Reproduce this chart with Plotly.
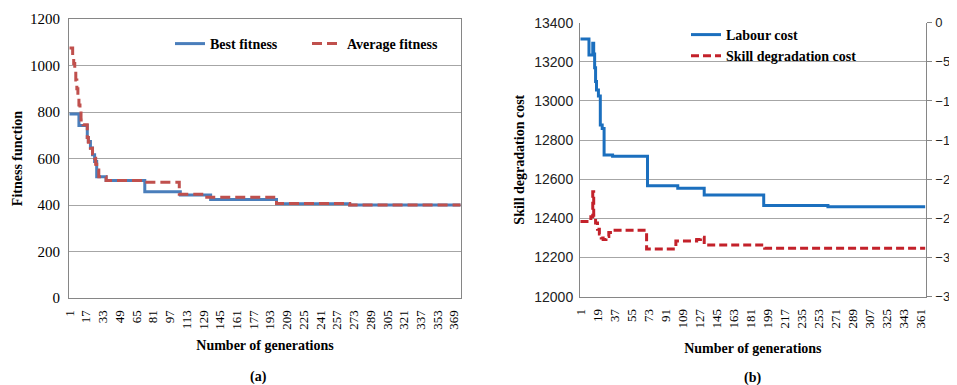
import plotly.graph_objects as go

# ---------------- data: chart (a) ----------------
n_gen_a = 375
best_gen = [1, 10, 18, 19, 21, 23, 25, 27, 36, 73, 107, 136, 199, 269, 375]
best_fit = [791, 742, 690, 673, 645, 616, 587, 522, 505, 457, 443, 424, 405, 400, 400]
avg_gen = [1, 4, 5, 6, 7, 8, 9, 10, 11, 12, 14, 18, 19, 21, 23, 25, 26, 27, 29, 36, 73, 106, 129, 199, 269, 375]
avg_fit = [1075, 1040, 1009, 975, 938, 900, 867, 830, 802, 766, 745, 690, 670, 644, 620, 601, 575, 551, 522, 505, 498, 446, 433, 406, 400, 400]
ticks_a = [1, 17, 33, 49, 65, 81, 97, 113, 129, 145, 161, 177, 193, 209, 225, 241, 257, 273, 289, 305, 321, 337, 353, 369]

# ---------------- data: chart (b) ----------------
n_gen_b = 366
labour_gen = [1, 10, 14, 15, 16, 17, 18, 20, 22, 24, 26, 35, 72, 104, 132, 195, 263, 366]
labour_cost = [13317, 13235, 13295, 13240, 13170, 13100, 13056, 13025, 12877, 12860, 12724, 12717, 12567, 12554, 12520, 12466, 12459, 12459]
skill_gen = [1, 11, 12, 14, 15, 17, 19, 21, 23, 25, 28, 31, 35, 71, 102, 124, 128, 132, 196, 366]
skill_cost = [-25.4, -25.2, -24.8, -21.6, -24.6, -25.6, -26.4, -27.0, -27.5, -27.7, -27.3, -26.8, -26.5, -28.9, -27.9, -27.7, -27.4, -28.4, -28.8, -28.8]
ticks_b = [1, 19, 37, 55, 73, 91, 109, 127, 145, 163, 181, 199, 217, 235, 253, 271, 289, 307, 325, 343, 361]

SERIF = "Liberation Serif, Times New Roman, serif"
SANS = "Liberation Sans, Arial, sans-serif"
GRID = "#a6a6a6"
AXIS = "#868686"
OFF = 8                  # page body margin offset
W, H = 957 - OFF, 385 - OFF

fig = go.Figure()
fig.add_trace(go.Scatter(x=best_gen, y=best_fit, name="Best fitness", mode="lines",
                         line=dict(color="#4a7ebb", width=3, shape="hv"),
                         xaxis="x", yaxis="y", legend="legend"))
fig.add_trace(go.Scatter(x=avg_gen, y=avg_fit, name="Average fitness", mode="lines",
                         line=dict(color="#c0504d", width=3, shape="hv", dash="10px,5px"),
                         xaxis="x", yaxis="y", legend="legend"))
fig.add_trace(go.Scatter(x=labour_gen, y=labour_cost, name="Labour cost", mode="lines",
                         line=dict(color="#1b6fbe", width=3, shape="hv"),
                         xaxis="x2", yaxis="y2", legend="legend2"))
fig.add_trace(go.Scatter(x=skill_gen, y=skill_cost, name="Skill degradation cost", mode="lines",
                         line=dict(color="#c3212a", width=3, shape="hv", dash="8px,4px"),
                         xaxis="x2", yaxis="y3", legend="legend2"))

def px_x(p):
    return (p - OFF) / W

def px_y(p):
    return 1 - (p - OFF) / H

title_font = dict(family=SERIF, size=14, color="black", weight="bold")

fig.update_layout(
    width=W, height=H,
    margin=dict(l=0, r=0, t=0, b=0),
    paper_bgcolor="white", plot_bgcolor="white",
    xaxis=dict(domain=[px_x(69), px_x(461)], range=[0.5, n_gen_a + 0.5], anchor="y",
               automargin=False,
               tickmode="array", tickvals=ticks_a, ticktext=[str(t) for t in ticks_a],
               tickangle=-90, tickfont=dict(family=SERIF, size=13, color="black"),
               showgrid=False, zeroline=False, showline=True, linecolor=AXIS, linewidth=1,
               mirror=True, ticks="", ticklabelstandoff=6,
               title=dict(text="Number of generations", font=title_font, standoff=11)),
    yaxis=dict(domain=[px_y(298), px_y(19)], range=[0, 1200], dtick=200, anchor="x",
               automargin=False,
               tickfont=dict(family=SERIF, size=15, color="black"),
               showgrid=True, gridcolor=GRID, gridwidth=1, zeroline=False,
               showline=True, linecolor=AXIS, mirror=True, ticks="", ticklabelstandoff=5,
               title=dict(text="Fitness function", font=title_font, standoff=4)),
    xaxis2=dict(domain=[px_x(580), px_x(925.7)], range=[0.5, n_gen_b + 0.5], anchor="y2",
                automargin=False,
                tickmode="array", tickvals=ticks_b, ticktext=[str(t) for t in ticks_b],
                tickangle=-90, tickfont=dict(family=SERIF, size=13, color="black"),
                showgrid=False, zeroline=False, showline=True, linecolor=AXIS, ticks="",
                ticklabelstandoff=6,
                title=dict(text="Number of generations", font=title_font, standoff=15)),
    yaxis2=dict(domain=[px_y(296.7), px_y(22.7)], range=[12000, 13400], dtick=200, anchor="x2",
                automargin=False, tickformat="d",
                tickfont=dict(family=SANS, size=14, color="#222222"),
                showgrid=True, gridcolor=GRID, zeroline=False, showline=True, linecolor=AXIS,
                ticks="", ticklabelstandoff=3,
                title=dict(text="Skill degradation cost", font=title_font, standoff=6)),
    yaxis3=dict(range=[-35, 0], dtick=5, anchor="x2", overlaying="y2", side="right",
                automargin=False, tickformat="d",
                tickfont=dict(family=SANS, size=13, color="#222222"),
                showgrid=False, zeroline=False, showline=True, linecolor=AXIS,
                ticks="outside", ticklen=5, tickcolor=AXIS, ticklabelstandoff=1),
    legend=dict(orientation="h", x=px_x(170), y=px_y(28), xanchor="left", yanchor="top",
                font=dict(family=SERIF, size=14, color="black", weight="bold"),
                bgcolor="rgba(0,0,0,0)", entrywidth=92, itemclick=False),
    legend2=dict(orientation="v", x=px_x(686), y=px_y(19), xanchor="left", yanchor="top",
                 font=dict(family=SERIF, size=14, color="black", weight="bold"),
                 bgcolor="rgba(0,0,0,0)", tracegroupgap=0, itemclick=False),
    annotations=[
        dict(text="(a)", x=px_x(258), y=px_y(377), xref="paper", yref="paper",
             xanchor="center", yanchor="middle", showarrow=False, font=title_font),
        dict(text="(b)", x=px_x(752), y=px_y(378), xref="paper", yref="paper",
             xanchor="center", yanchor="middle", showarrow=False, font=title_font),
    ],
)

fig.write_html("out.html")
